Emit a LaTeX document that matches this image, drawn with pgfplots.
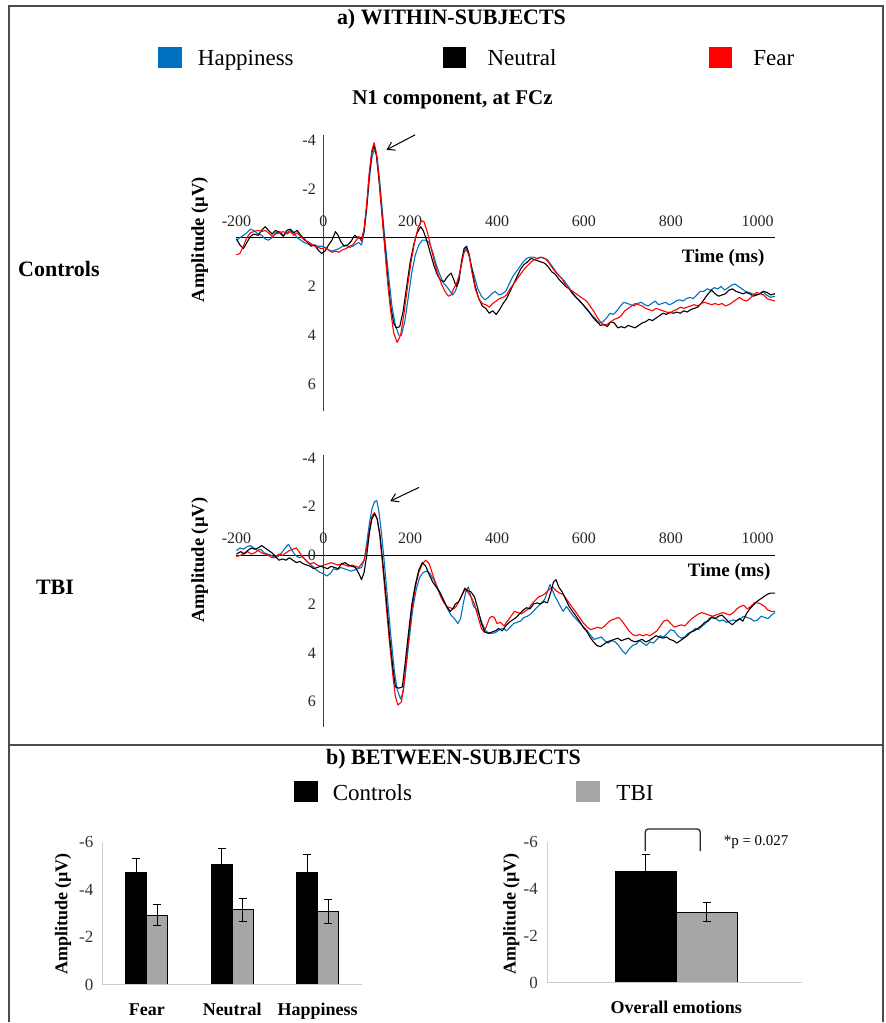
\documentclass[border=0pt]{standalone}
\usepackage{pgfplots}
\pgfplotsset{compat=1.18}
\usepackage{pgfplotstable}
\usepackage{fontspec}
\setmainfont{Liberation Serif}
\usetikzlibrary{arrows.meta}
\definecolor{hblue}{RGB}{0,112,192}
\definecolor{fred}{RGB}{255,0,0}
\definecolor{tbigray}{RGB}{166,166,166}
\definecolor{axgray}{RGB}{205,205,205}
\newcommand\fs[1]{\fontsize{#1}{#1}\selectfont}

% ---------------- Controls ----------------
\pgfplotstableread{
t v
-200 0.05
-192 0.3
-184 0.45
-176 0.2
-168 -0.05
-160 -0.15
-150 -0.1
-142 -0.3
-134 -0.45
-126 -0.3
-118 -0.15
-110 -0.3
-100 -0.2
-92 -0.05
-84 -0.3
-76 -0.35
-68 -0.2
-60 -0.3
-52 -0.1
-44 0.05
-36 0.2
-28 0.35
-20 0.3
-12 0.5
-4 0.65
4 0.55
12 0.3
20 0.1
28 -0.25
34 -0.1
40 0.15
48 0.35
56 0.3
64 0.15
72 -0.1
80 0.0
88 0.05
94 -0.3
100 -1.3
106 -2.6
112 -3.5
117 -3.8
122 -3.4
128 -2.4
134 -1.2
140 0.0
148 1.6
155 2.8
162 3.5
168 3.7
176 3.65
184 3.0
192 2.0
200 1.0
208 0.3
216 -0.2
224 -0.45
230 -0.3
238 0.1
246 0.6
254 1.1
262 1.5
270 1.75
278 1.8
286 1.6
294 1.45
300 1.7
306 2.0
312 1.8
318 1.0
324 0.45
330 0.35
336 0.7
342 1.3
350 2.0
358 2.5
366 2.8
374 2.9
382 3.1
390 3.0
398 3.15
406 2.95
414 2.7
422 2.5
430 2.2
438 1.9
446 1.6
454 1.3
462 1.1
470 1.0
478 0.85
486 0.9
494 0.95
502 1.0
510 1.05
518 1.2
526 1.4
534 1.5
542 1.7
550 1.85
558 2.0
566 2.1
574 2.3
582 2.45
590 2.6
598 2.75
606 2.9
614 3.1
622 3.3
630 3.45
638 3.6
646 3.55
654 3.65
662 3.45
670 3.5
678 3.7
686 3.65
694 3.7
702 3.6
710 3.65
718 3.7
726 3.6
734 3.5
742 3.45
750 3.35
758 3.4
766 3.3
774 3.2
782 3.1
790 3.15
798 3.05
806 3.1
814 3.05
822 3.1
830 3.0
838 3.05
846 2.95
854 2.9
862 2.85
870 2.7
878 2.5
886 2.3
894 2.15
902 2.3
910 2.4
918 2.35
926 2.3
934 2.15
942 2.1
950 2.2
958 2.25
966 2.3
974 2.25
982 2.3
990 2.4
998 2.35
1006 2.3
1014 2.2
1022 2.25
1030 2.35
1040 2.3
}\CtrlN

\pgfplotstableread{
t v
-200 0.7
-192 0.65
-184 0.35
-176 0.0
-168 -0.2
-160 -0.25
-150 -0.3
-142 -0.25
-134 -0.3
-126 -0.2
-118 -0.05
-110 -0.15
-100 -0.2
-92 -0.25
-84 -0.15
-76 -0.25
-68 -0.1
-60 -0.2
-52 -0.05
-44 0.1
-36 0.15
-28 0.25
-20 0.35
-12 0.4
-4 0.45
4 0.4
12 0.5
20 0.6
28 0.55
36 0.6
44 0.5
52 0.45
60 0.35
68 0.3
76 0.1
82 -0.05
88 0.15
94 -0.4
100 -1.4
106 -2.7
112 -3.6
117 -3.9
122 -3.5
128 -2.5
134 -1.2
140 0.1
148 1.8
155 3.0
162 3.9
170 4.3
178 4.0
186 3.1
194 2.0
202 1.0
210 0.2
218 -0.4
226 -0.7
232 -0.65
240 -0.2
248 0.4
256 1.0
264 1.5
272 1.9
280 2.2
288 2.4
294 2.35
300 2.1
306 1.9
312 1.6
318 1.1
324 0.6
330 0.5
336 0.75
342 1.4
350 2.1
358 2.5
366 2.7
374 2.75
382 2.85
390 2.7
398 2.6
406 2.5
414 2.45
422 2.35
430 2.1
438 1.9
446 1.7
454 1.5
462 1.3
470 1.15
478 1.0
486 0.9
494 0.85
502 0.8
510 0.85
518 1.0
526 1.2
534 1.4
542 1.55
550 1.7
558 1.95
566 2.1
574 2.2
582 2.3
590 2.4
598 2.5
606 2.6
614 2.8
622 3.0
630 3.25
638 3.45
646 3.6
654 3.55
662 3.45
670 3.35
678 3.3
686 3.2
694 3.0
702 2.9
710 2.8
718 2.7
726 2.75
734 2.8
742 2.9
750 2.95
758 3.0
766 2.9
774 2.95
782 3.0
790 3.05
798 3.1
806 3.0
814 2.95
822 2.85
830 2.9
838 2.85
846 2.8
854 2.75
862 2.8
870 2.7
878 2.65
886 2.7
894 2.75
902 2.7
910 2.75
918 2.7
926 2.8
934 2.75
942 2.65
950 2.55
958 2.45
966 2.55
974 2.6
982 2.5
990 2.35
998 2.25
1006 2.3
1014 2.35
1022 2.5
1030 2.55
1040 2.6
}\CtrlF

\pgfplotstableread{
t v
-200 0.1
-192 0.0
-184 -0.1
-176 -0.2
-168 -0.35
-160 -0.3
-150 -0.15
-142 -0.1
-134 0.05
-126 0.1
-118 0.0
-110 -0.2
-100 -0.25
-92 -0.1
-84 -0.2
-76 -0.3
-68 -0.2
-60 0.0
-52 0.1
-44 0.2
-36 0.25
-28 0.3
-20 0.3
-12 0.35
-4 0.35
4 0.4
12 0.5
20 0.55
28 0.5
36 0.45
44 0.35
52 0.3
60 0.4
68 0.35
76 0.25
82 0.2
88 0.3
94 -0.2
100 -1.2
106 -2.4
112 -3.3
118 -3.65
124 -3.3
130 -2.3
136 -1.1
142 0.1
150 1.5
158 2.8
166 3.6
174 4.0
180 4.0
188 3.4
196 2.4
204 1.4
212 0.7
220 0.3
228 0.1
236 0.1
244 0.2
252 0.6
260 1.1
268 1.5
276 1.85
284 2.0
292 2.2
298 2.35
304 2.2
310 1.9
316 1.3
322 0.7
328 0.4
334 0.6
340 1.1
348 1.6
356 2.1
364 2.4
372 2.55
380 2.45
388 2.3
396 2.2
404 2.35
412 2.3
420 2.2
428 1.9
436 1.6
444 1.4
452 1.2
460 1.0
468 0.85
476 0.8
484 0.8
492 0.85
500 0.8
508 0.85
516 0.9
524 1.1
532 1.3
540 1.5
548 1.65
556 1.8
564 2.0
572 2.2
580 2.4
588 2.55
596 2.7
604 2.9
612 3.05
620 3.2
628 3.35
636 3.5
644 3.45
652 3.3
660 3.1
668 3.15
676 3.0
684 2.8
692 2.65
700 2.7
708 2.75
716 2.8
724 2.7
732 2.65
740 2.75
748 2.8
756 2.7
764 2.6
772 2.75
780 2.7
788 2.65
796 2.75
804 2.7
812 2.6
820 2.55
828 2.6
836 2.5
844 2.45
852 2.5
860 2.35
868 2.2
876 2.2
884 2.1
892 2.15
900 2.05
908 2.1
916 2.0
924 2.15
932 2.05
940 1.95
948 1.9
956 2.0
964 2.1
972 2.2
980 2.25
988 2.3
996 2.35
1004 2.3
1012 2.2
1020 2.35
1030 2.45
1040 2.4
}\CtrlH

% ---------------- TBI ----------------
\pgfplotstableread{
t v
-200 -0.05
-190 -0.15
-182 -0.05
-174 -0.2
-166 -0.3
-158 -0.25
-150 -0.3
-142 -0.4
-134 -0.3
-126 -0.2
-118 -0.1
-110 0.05
-102 0.2
-94 0.15
-86 0.2
-78 0.1
-70 0.2
-62 0.3
-54 0.25
-46 0.35
-38 0.4
-30 0.45
-22 0.55
-14 0.5
-6 0.45
2 0.5
10 0.55
18 0.45
26 0.5
34 0.55
42 0.35
50 0.3
58 0.4
66 0.45
74 0.5
82 0.75
88 1.0
94 0.7
100 0.0
106 -0.9
112 -1.5
118 -1.7
124 -1.5
130 -0.9
136 0.1
144 1.6
152 3.2
160 4.6
166 5.4
174 5.45
182 5.4
188 4.5
196 3.2
204 2.0
212 1.2
220 0.6
228 0.3
236 0.45
244 0.8
252 1.1
260 1.3
268 1.5
276 1.8
284 2.1
292 2.3
298 2.2
304 2.0
312 1.9
320 1.6
326 1.35
332 1.45
340 1.5
348 1.7
356 2.2
364 2.8
372 3.15
380 3.2
388 3.15
396 3.1
404 3.0
412 3.1
420 2.9
428 2.75
436 2.65
444 2.55
452 2.4
460 2.25
468 2.15
476 2.2
484 2.0
492 1.95
500 2.0
508 1.9
516 1.95
524 1.5
530 1.1
536 1.0
542 1.3
550 1.5
558 1.8
566 2.1
574 2.3
582 2.5
590 2.7
598 2.95
606 3.1
614 3.35
622 3.55
630 3.7
638 3.75
646 3.65
654 3.55
662 3.5
670 3.45
678 3.4
686 3.5
694 3.45
702 3.4
710 3.5
718 3.55
726 3.5
734 3.45
742 3.55
750 3.5
758 3.4
766 3.3
774 3.35
782 3.4
790 3.35
798 3.45
806 3.5
814 3.6
822 3.5
830 3.4
838 3.3
846 3.15
854 3.1
862 3.0
870 2.9
878 2.75
886 2.7
894 2.55
902 2.6
910 2.5
918 2.45
926 2.6
934 2.75
942 2.85
950 2.7
958 2.6
966 2.7
974 2.4
982 2.2
990 2.05
998 1.9
1006 1.8
1014 1.7
1022 1.6
1030 1.55
1040 1.55
}\TbiN

\pgfplotstableread{
t v
-200 0.05
-190 0.0
-182 -0.1
-174 -0.15
-166 -0.05
-158 -0.1
-150 -0.2
-142 -0.1
-134 -0.05
-126 0.0
-118 0.1
-110 0.05
-102 -0.05
-94 0.0
-86 -0.1
-78 -0.2
-70 -0.25
-62 -0.3
-54 -0.1
-46 0.1
-38 0.25
-30 0.35
-22 0.3
-14 0.4
-6 0.45
2 0.4
10 0.35
18 0.3
26 0.35
34 0.4
42 0.35
50 0.4
58 0.45
66 0.4
74 0.45
82 0.5
88 0.35
94 0.2
100 -0.3
106 -1.0
112 -1.6
118 -1.75
124 -1.5
130 -0.8
136 0.3
144 1.9
152 3.5
160 4.9
166 5.8
172 6.15
180 6.0
188 5.0
196 3.5
204 2.2
212 1.3
220 0.7
228 0.35
236 0.2
244 0.35
252 0.8
260 1.2
268 1.6
276 1.9
284 2.1
292 2.15
300 2.2
306 2.1
312 1.9
320 1.6
326 1.4
332 1.5
340 1.7
348 2.0
356 2.5
364 3.0
370 3.15
376 2.9
382 2.6
388 2.5
394 2.55
400 2.8
408 2.75
416 2.9
424 2.7
432 2.5
440 2.3
448 2.35
456 2.4
464 2.3
472 2.2
480 2.0
488 1.85
496 1.7
504 1.65
512 1.55
520 1.4
528 1.3
536 1.45
544 1.55
552 1.6
560 1.8
568 2.0
576 2.2
584 2.4
592 2.6
600 2.8
608 2.95
616 3.05
624 3.0
632 2.95
640 3.0
648 2.9
656 2.75
664 2.65
672 2.6
680 2.55
688 2.7
696 2.9
704 3.1
712 3.25
720 3.3
728 3.25
736 3.3
744 3.25
752 3.3
760 3.2
768 3.1
776 2.9
784 2.7
792 2.65
800 2.8
808 2.95
816 2.9
824 2.85
832 2.9
840 2.75
848 2.6
856 2.5
864 2.4
872 2.35
880 2.4
888 2.45
896 2.5
904 2.45
912 2.4
920 2.35
928 2.4
936 2.45
944 2.35
952 2.2
960 2.1
968 2.05
976 2.2
984 2.1
992 1.95
1000 1.95
1008 2.0
1016 2.1
1024 2.25
1032 2.3
1040 2.3
}\TbiF

\pgfplotstableread{
t v
-200 -0.2
-192 -0.3
-184 -0.25
-176 -0.35
-168 -0.4
-160 -0.3
-152 -0.2
-144 -0.25
-136 -0.1
-128 -0.05
-120 0.0
-112 0.1
-104 0.05
-96 -0.1
-88 -0.3
-80 -0.45
-72 -0.2
-64 0.0
-56 0.1
-48 0.05
-40 0.2
-32 0.35
-24 0.45
-16 0.6
-8 0.7
0 0.75
8 0.85
16 0.75
24 0.55
32 0.6
40 0.5
48 0.55
56 0.6
64 0.65
72 0.6
80 0.55
88 0.5
94 0.2
100 -0.5
106 -1.3
112 -1.9
118 -2.2
123 -2.25
128 -1.8
134 -0.9
140 0.2
148 1.8
156 3.4
164 4.8
170 5.5
178 5.9
184 5.6
190 4.7
198 3.4
206 2.2
214 1.4
222 0.9
230 0.7
238 0.65
246 0.75
254 1.0
262 1.3
270 1.6
278 1.9
286 2.2
294 2.45
302 2.6
310 2.8
316 2.6
322 2.0
328 1.5
334 1.3
340 1.7
346 2.1
352 2.2
358 2.4
366 2.8
374 3.1
382 3.2
390 3.2
398 3.15
406 3.05
414 3.0
422 3.1
430 2.95
438 2.8
446 2.75
454 2.7
462 2.55
470 2.5
478 2.4
486 2.25
494 2.1
502 1.95
510 1.8
516 1.5
522 1.2
528 1.45
534 1.7
540 1.9
546 2.1
552 2.3
560 2.1
568 2.3
576 2.5
584 2.65
592 2.8
600 2.95
608 3.1
616 3.3
624 3.45
632 3.4
640 3.35
648 3.5
656 3.6
664 3.5
672 3.55
680 3.7
688 3.9
696 4.05
704 3.85
712 3.7
720 3.65
728 3.5
736 3.6
744 3.7
752 3.55
760 3.6
768 3.45
776 3.3
784 3.35
792 3.2
800 3.05
808 3.1
816 3.3
824 3.4
832 3.35
840 3.2
848 3.15
856 3.0
864 3.05
872 2.9
880 2.8
888 2.6
896 2.5
904 2.6
912 2.7
920 2.65
928 2.75
936 2.7
944 2.65
952 2.7
960 2.6
968 2.5
976 2.55
984 2.6
992 2.7
1000 2.65
1008 2.5
1016 2.55
1024 2.6
1032 2.45
1040 2.35
}\TbiH

\pgfplotsset{
  erp/.style={scale only axis, width=539.2pt, xmin=-200, xmax=1040,
    y dir=reverse, enlargelimits=false, clip=false,
    axis lines=middle, axis line style={-},
    x axis line style={black, line width=1.5pt},
    y axis line style={black!75, line width=1.1pt},
    major tick length=0pt,
    xtick={-200,0,200,400,600,800,1000},
    xticklabels={-200,0,200,400,600,800,1000},
    tick label style={font=\fs{16}, text=black!85},
    xticklabel style={anchor=south, yshift=8pt},
    yticklabel style={anchor=east, xshift=-4pt},
  },
  erpline/.style={line width=1.1pt, line join=round},
  barax/.style={scale only axis, y dir=reverse, ymin=-6, ymax=0,
    enlargelimits=false, clip=false, axis line style={draw=none},
    major tick length=0pt, ybar=0pt,
    ytick={-6,-4,-2,0}, yticklabels={-6,-4,-2,0},
    yticklabel style={font=\fs{17}, text=black!80, xshift=-6pt},
    xticklabel style={font=\bfseries\fs{18}, yshift=-15pt},
  },
  errs/.style={error bars/.cd, y dir=both, y explicit,
    error bar style={black, line width=1.1pt},
    error mark=|,
    error mark options={black, mark size=4pt, line width=1.1pt}},
}

\begin{document}
\begin{tikzpicture}
\path (0pt,0pt) rectangle (887pt,1023pt);

% frame
\draw[line width=2pt, black!70] (9pt,0pt) -- (9pt,1017pt) -- (884pt,1017pt) -- (884pt,0pt);
\draw[line width=2pt, black!70] (9pt,277pt) -- (884pt,277pt);

% top titles and legend
\node[font=\bfseries\fs{22}] at (452pt,1004pt) {a) WITHIN-SUBJECTS};
\fill[hblue] (158pt,955pt) rectangle (182pt,976pt);
\node[anchor=base west, font=\fs{23}, inner sep=0pt] at (198pt,957.5pt) {Happiness};
\fill[black] (444pt,955pt) rectangle (467pt,976pt);
\node[anchor=base west, font=\fs{23}, inner sep=0pt] at (488pt,957.5pt) {Neutral};
\fill[fred] (710pt,955pt) rectangle (733pt,976pt);
\node[anchor=base west, font=\fs{23}, inner sep=0pt] at (754pt,957.5pt) {Fear};
\node[font=\bfseries\fs{21}] at (453pt,923.5pt) {N1 component, at FCz};

% Controls ERP
\begin{axis}[erp, at={(236.7pt,611.8pt)}, anchor=south west, height=275.7pt,
  ymin=-4.2, ymax=7.1, ytick={-4,-2,2,4,6}, yticklabels={-4,-2,2,4,6}]
\addplot[hblue, erpline] table[x=t, y=v] {\CtrlH};
\addplot[black, erpline] table[x=t, y=v] {\CtrlN};
\addplot[fred, erpline] table[x=t, y=v] {\CtrlF};
\node[anchor=south, yshift=8pt, font=\fs{16}, text=black!85] at (axis cs:0,0) {0};
\end{axis}

% TBI ERP
\begin{axis}[erp, at={(236.7pt,295pt)}, anchor=south west, height=272.1pt,
  ymin=-4.1, ymax=7.05, ytick={-4,-2,2,4,6}, yticklabels={-4,-2,2,4,6}]
\addplot[hblue, erpline] table[x=t, y=v] {\TbiH};
\addplot[fred, erpline] table[x=t, y=v] {\TbiF};
\addplot[black, erpline] table[x=t, y=v] {\TbiN};
\node[anchor=south, yshift=8pt, font=\fs{16}, text=black!85] at (axis cs:0,0) {0};
\node[anchor=east, xshift=-4pt, font=\fs{16}, text=black!85] at (axis cs:0,0) {0};
\end{axis}

% ERP annotations
\node[font=\bfseries\fs{19}] at (724pt,765pt) {Time (ms)};
\node[font=\bfseries\fs{19}] at (730pt,450pt) {Time (ms)};
\node[font=\bfseries\fs{18.5}, rotate=90] at (200pt,783pt) {Amplitude (µV)};
\node[font=\bfseries\fs{18.5}, rotate=90] at (200pt,462pt) {Amplitude (µV)};
\node[font=\bfseries\fs{22}] at (59pt,754pt) {Controls};
\node[font=\bfseries\fs{22}] at (55pt,435pt) {TBI};
\draw[line width=1pt, -{Straight Barb[length=7pt, width=9pt]}] (415.6pt,888pt) -- (387pt,873pt);
\draw[line width=1pt, -{Straight Barb[length=7pt, width=9pt]}] (419.5pt,535pt) -- (390.7pt,521.3pt);

% bottom title and legend
\node[font=\bfseries\fs{22}] at (454pt,263pt) {b) BETWEEN-SUBJECTS};
\fill[black] (294pt,220pt) rectangle (318pt,241pt);
\node[anchor=base west, font=\fs{23}, inner sep=0pt] at (333pt,222pt) {Controls};
\fill[tbigray] (577pt,220pt) rectangle (601pt,241pt);
\node[anchor=base west, font=\fs{23}, inner sep=0pt] at (617pt,222pt) {TBI};

% left bar chart
\begin{axis}[barax, at={(103pt,37pt)}, anchor=south west, width=259pt, height=143pt,
  xmin=-0.515, xmax=2.515, bar width=21pt,
  xtick={0,1,2}, xticklabels={Fear,Neutral,Happiness}]
\addplot[fill=black, draw=black, line width=0.8pt, errs] coordinates
  {(0,-4.74) +- (0,0.55) (1,-5.04) +- (0,0.67) (2,-4.74) +- (0,0.72)};
\addplot[fill=tbigray, draw=black, line width=0.8pt, errs] coordinates
  {(0,-2.92) +- (0,0.44) (1,-3.15) +- (0,0.49) (2,-3.08) +- (0,0.51)};
\draw[axgray, line width=1.2pt] (axis cs:-0.515,-6) -- (axis cs:-0.515,0) -- (axis cs:2.515,0);
\end{axis}
\node[font=\bfseries\fs{18}, rotate=90] at (63pt,108pt) {Amplitude (µV)};

% right bar chart
\begin{axis}[barax, at={(548pt,39pt)}, anchor=south west, width=255pt, height=141pt,
  xmin=-1.29, xmax=1.26, bar width=61pt,
  xtick={0}, xticklabels={Overall emotions}]
\addplot[fill=black, draw=black, line width=0.8pt, errs] coordinates
  {(0,-4.77) +- (0,0.68)};
\addplot[fill=tbigray, draw=black, line width=0.8pt, errs] coordinates
  {(0,-3.02) +- (0,0.40)};
\draw[axgray, line width=1.2pt] (axis cs:-1.29,-6) -- (axis cs:-1.29,0) -- (axis cs:1.26,0);
\end{axis}
\node[font=\bfseries\fs{18}, rotate=90] at (512pt,108pt) {Amplitude (µV)};
\draw[line width=1.3pt, black!85, rounded corners=3pt] (646pt,171pt) -- (646pt,193pt) -- (701pt,193pt) -- (701pt,171pt);
\node[font=\fs{15}] at (757pt,180pt) {*p = 0.027};

\end{tikzpicture}
\end{document}
